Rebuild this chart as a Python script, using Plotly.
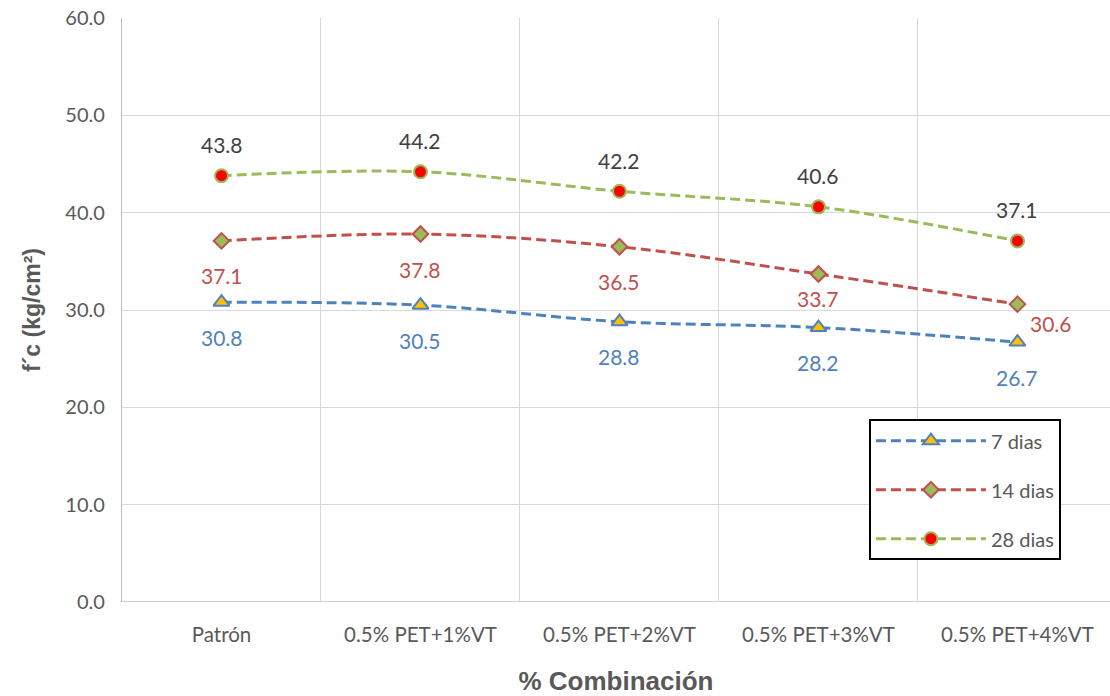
import plotly.graph_objects as go

# Compressive strength f'c by mix and curing age
categories = ["Patrón", "0.5% PET+1%VT", "0.5% PET+2%VT", "0.5% PET+3%VT", "0.5% PET+4%VT"]
dias_7 = [30.8, 30.5, 28.8, 28.2, 26.7]
dias_14 = [37.1, 37.8, 36.5, 33.7, 30.6]
dias_28 = [43.8, 44.2, 42.2, 40.6, 37.1]
y_ticks = [0, 10, 20, 30, 40, 50, 60]

x = list(range(len(categories)))

series = [
    dict(name="7 dias", y=dias_7, line="#4F81BD", symbol="triangle-up",
         fill="#FFC000", edge="#4F81BD", size=14, label="#4F81BD",
         offs=[(0, -35)] * 5),
    dict(name="14 dias", y=dias_14, line="#C0504D", symbol="diamond",
         fill="#9BBB59", edge="#C0504D", size=12, label="#C0504D",
         offs=[(0, -35), (0, -35), (0, -35), (0, -25), (34, -19)]),
    dict(name="28 dias", y=dias_28, line="#9BBB59", symbol="circle",
         fill="#FF0000", edge="#9BBB59", size=13, label="#404040",
         offs=[(0, 31)] * 5),
]

fig = go.Figure()
annotations = []
for i, s in enumerate(series):
    fig.add_trace(go.Scatter(
        x=x, y=s["y"], name=s["name"], mode="lines+markers",
        line=dict(color=s["line"], width=3, dash="10px,5px", shape="spline", smoothing=1),
        marker=dict(symbol=s["symbol"], size=s["size"], color=s["fill"],
                    line=dict(color=s["edge"], width=2)),
        legendgroup=str(i),
    ))
    for xi, yi, (dx, dy) in zip(x, s["y"], s["offs"]):
        annotations.append(dict(
            x=xi, y=yi, text=f"{yi:.1f}", showarrow=False,
            xshift=dx, yshift=dy,
            font=dict(family="Lato", size=21, color=s["label"]),
        ))

fig.update_layout(
    width=1110, height=696,
    margin=dict(l=122, r=0, t=18, b=94),
    paper_bgcolor="white", plot_bgcolor="white",
    annotations=annotations,
    showlegend=True,
    legend=dict(
        x=0.756, y=0.313, xanchor="left", yanchor="top",
        bordercolor="black", borderwidth=2, bgcolor="white",
        font=dict(family="Lato", size=20, color="#595959"),
        tracegroupgap=20, itemwidth=110,
    ),
    xaxis=dict(
        range=[-0.5, 4.465], tickmode="array", tickvals=x, ticktext=categories,
        showgrid=False, zeroline=False, showline=False,
        tickfont=dict(family="Lato", size=20.5, color="#595959"),
        ticks="", ticklen=0, ticklabelstandoff=18,
        minor=dict(tickmode="array", tickvals=[0.5, 1.5, 2.5, 3.5],
                   showgrid=True, gridcolor="#D9D9D9", gridwidth=1.3, ticks=""),
        title=dict(text="<b>% Combinación</b>", standoff=28,
                   font=dict(family="Liberation Sans", size=26, color="#595959")),
    ),
    yaxis=dict(
        range=[0, 60], tickmode="array", tickvals=y_ticks,
        ticktext=[f"{v:.1f}" for v in y_ticks],
        showgrid=True, gridcolor="#D9D9D9", gridwidth=1.3,
        zeroline=False, showline=True, linecolor="#BFBFBF", linewidth=1.3,
        tickfont=dict(family="Lato", size=20, color="#595959"),
        ticks="", ticklabelstandoff=12,
        title=dict(text="<b>f´c (kg/cm²)</b>", standoff=18,
                   font=dict(family="Liberation Sans", size=23, color="#595959")),
    ),
)

# baseline along y = 0
fig.add_hline(y=0, line=dict(color="#BFBFBF", width=1.3), layer="below")

fig.write_html("out.html")
